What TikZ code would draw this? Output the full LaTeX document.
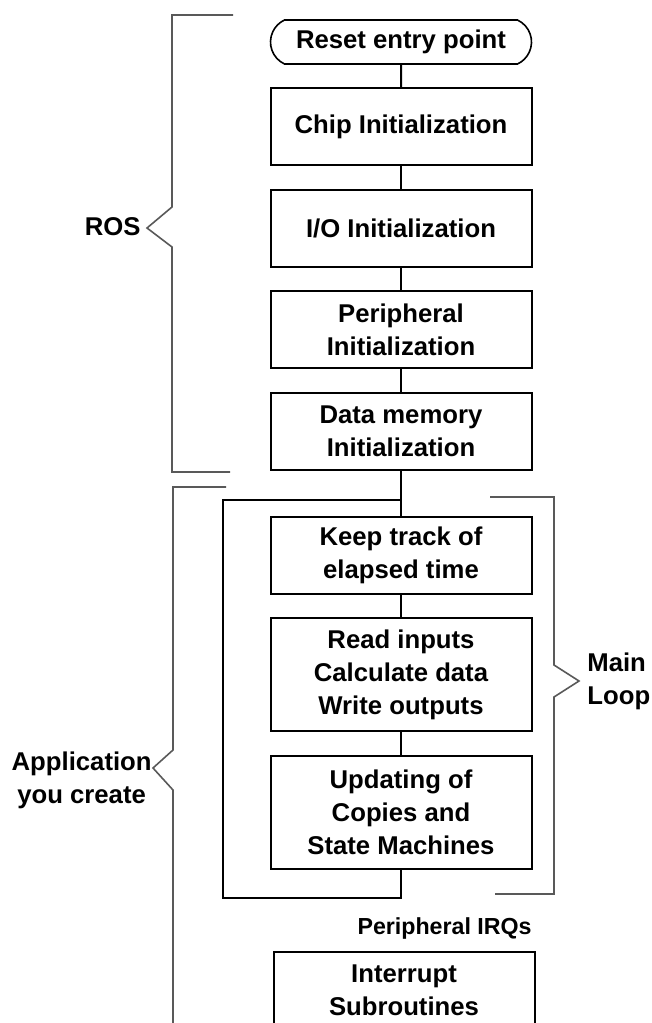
\documentclass[tikz,border=0pt]{standalone}
\usepackage{fontspec}
\setmainfont{Liberation Sans}
\usetikzlibrary{positioning,shapes.misc}
\definecolor{bracegray}{HTML}{595959}

\begin{document}
\begin{tikzpicture}[
  x=0.5pt,y=-0.5pt,
  node distance=11.25pt,
  every node/.style={font=\fontsize{12.85}{16.5}\selectfont\bfseries,align=center},
  box/.style={draw,line width=1pt,minimum width=130.5pt,minimum height=38.5pt,inner sep=2pt},
  tallbox/.style={box,minimum height=56.5pt},
  entry/.style={draw,line width=0.8pt,rounded rectangle,rounded rectangle arc length=130,
              minimum width=132.5pt,minimum height=22pt,inner sep=1pt},
  link/.style={line width=1pt},
  bracket/.style={draw=bracegray,line width=0.8pt},
  lbl/.style={inner sep=0pt}
]
\useasboundingbox (0,0) rectangle (652,1023);
\clip (0,0) rectangle (652,1023);

% flow chart
\node[entry] (reset) at (401,42) {Reset entry point};
\node[box,below=of reset] (chip) {Chip Initialization};
\node[box,below=of chip] (io) {I/O Initialization};
\node[box,below=of io] (periph) {Peripheral\\Initialization};
\node[box,below=of periph] (datamem) {Data memory\\Initialization};
\node[box,below=22.5pt of datamem] (keep) {Keep track of\\elapsed time};
\node[tallbox,below=of keep] (rwc) {Read inputs\\Calculate data\\Write outputs};
\node[tallbox,below=of rwc] (update) {Updating of\\Copies and\\State Machines};
\node[lbl,font=\fontsize{11.6}{14}\selectfont\bfseries,anchor=east] (irq) at (532,928) {Peripheral IRQs};
\node[box,below=40.5pt of update,xshift=1.5pt] (isr) {Interrupt\\Subroutines};

\draw[link] (reset) -- (chip);
\draw[link] (chip) -- (io);
\draw[link] (io) -- (periph);
\draw[link] (periph) -- (datamem);
\draw[link] (datamem) -- (keep);
\draw[link] (keep) -- (rwc);
\draw[link] (rwc) -- (update);

% main loop return
\coordinate[below=14.5pt of datamem] (looptop);
\coordinate[below=14pt of update] (loopbot);
\coordinate (loopleft) at (223,0);
\draw[link] (update.south) -- (loopbot) -| (loopleft |- looptop) -- (looptop);

% brackets
\draw[bracket] (233,15) -- (172,15) -- (172,207) -- (147,228) -- (172,247) -- (172,472) -- (230,472);
\draw[bracket] (226,487) -- (173,487) -- (173,750) -- (153,768) -- (173,790) -- (173,1030);
\draw[bracket] (490,497) -- (554,497) -- (554,665) -- (579,681) -- (554,697) -- (554,894) -- (495,894);

\node[lbl,anchor=east] (ros) at (141,227) {ROS};
\node[lbl,anchor=east] (app) at (152,780) {Application\\you create};
\node[lbl,anchor=west,align=left] (mainloop) at (587,681) {Main\\Loop};
\end{tikzpicture}
\end{document}
